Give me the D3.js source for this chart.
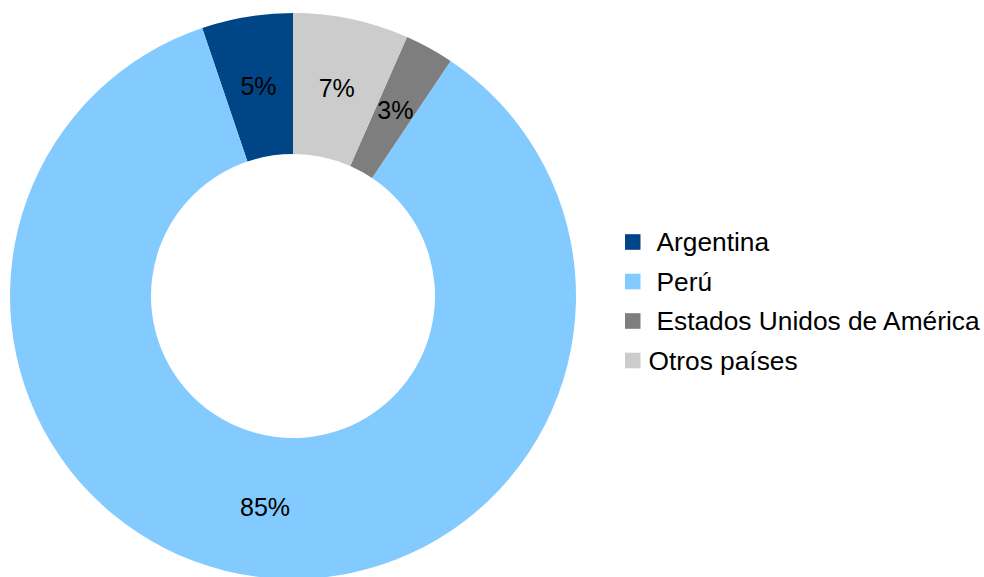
<!DOCTYPE html>
<html><head><meta charset="utf-8">
<script src="https://cdn.jsdelivr.net/npm/d3@7"></script>
<style>body{margin:0;background:#fff;} svg{display:block;}</style>
</head><body>
<svg id="chart" width="984" height="577"></svg>
<script>
const categories = ["Argentina", "Perú", "Estados Unidos de América", "Otros países"];
const values = [5.2, 85.4, 2.8, 6.6];
const labels = ["5%", "85%", "3%", "7%"];
const colors = ["#004586", "#83caff", "#7e7e7e", "#cccccc"];

const svg = d3.select("#chart");
const cx = 293, cy = 296, rOuter = 283, rInner = 142;
const font = "'Liberation Sans', Arial, sans-serif";

const data = categories.map((c, i) => ({name: c, value: values[i], label: labels[i], color: colors[i]}));
const pie = d3.pie().sort(null).value(d => d.value).startAngle(0).endAngle(-2 * Math.PI);
const arc = d3.arc().innerRadius(rInner).outerRadius(rOuter);
const arcs = pie(data);

const g = svg.append("g").attr("transform", `translate(${cx},${cy})`);
g.selectAll("path").data(arcs).join("path")
  .attr("d", arc).attr("fill", d => d.data.color);
g.selectAll("text").data(arcs).join("text")
  .attr("transform", d => `translate(${arc.centroid(d)})`)
  .attr("text-anchor", "middle").attr("dy", "0.36em")
  .attr("font-family", font).attr("font-size", 25).attr("fill", "#000")
  .text(d => d.data.label);

const legendY = d3.scalePoint().domain(categories).range([242, 360.5]);
const lg = svg.append("g");
const item = lg.selectAll("g").data(data).join("g")
  .attr("transform", d => `translate(0,${legendY(d.name)})`);
item.append("rect").attr("x", 625).attr("y", -7.8).attr("width", 15.5).attr("height", 15.6)
  .attr("fill", d => d.color);
item.append("text").attr("x", (d, i) => i === 3 ? 648.5 : 656.5).attr("y", 9.3)
  .attr("font-family", font).attr("font-size", 26.3).attr("fill", "#000")
  .text(d => d.name);
</script>
</body></html>
